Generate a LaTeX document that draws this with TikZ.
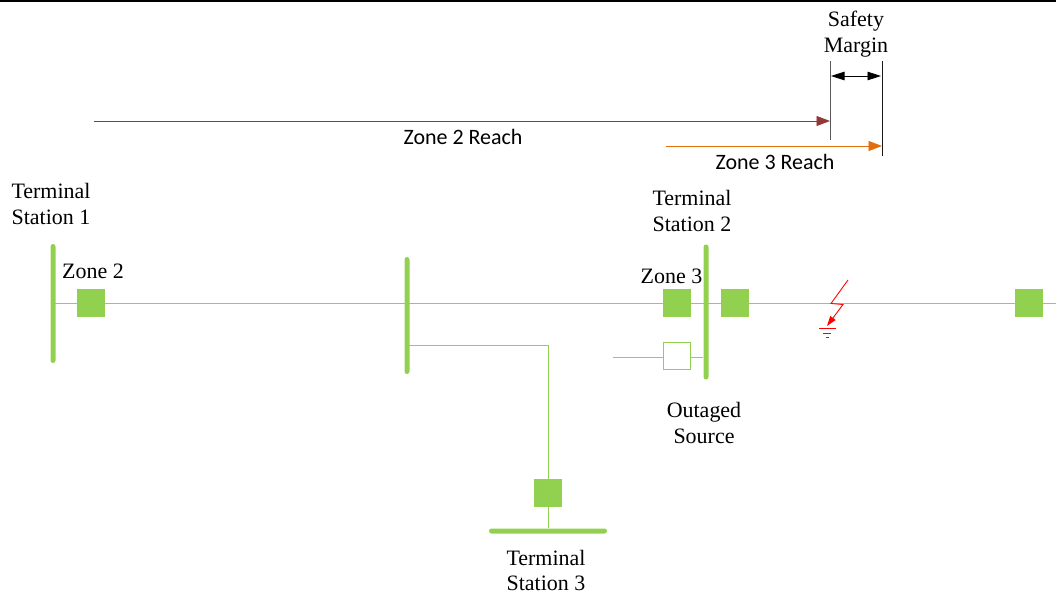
\documentclass[tikz,border=0pt]{standalone}
\usepackage{fontspec}
\setmainfont{Liberation Serif}
\newfontfamily\reachfont{Carlito}
\usetikzlibrary{positioning, arrows.meta, calc}
\definecolor{feedergreen}{RGB}{146,208,80}
\definecolor{reachred}{RGB}{149,55,53}
\definecolor{reachorange}{RGB}{228,108,10}
\definecolor{faultred}{RGB}{255,0,0}

\begin{document}
\begin{tikzpicture}[
    every node/.style={font=\fontsize{12.5}{14.7}\selectfont, align=center},
    busbar/.style={fill=feedergreen, rounded corners=0.05cm, inner sep=0pt, minimum width=0.1cm},
    busflat/.style={fill=feedergreen, rounded corners=0.05cm, inner sep=0pt, minimum height=0.1cm},
    breaker/.style={fill=feedergreen, draw=feedergreen, line width=0.3pt, minimum size=0.54cm, inner sep=0pt},
    openbreaker/.style={fill=white, draw=feedergreen, line width=0.5pt, minimum size=0.54cm, inner sep=0pt},
    feeder/.style={draw=feedergreen, line width=0.5pt},
    reachlabel/.style={font=\reachfont\fontsize{12.5}{14}\selectfont},
    marker/.style={line width=0.5pt},
    reach/.style={-{Triangle[length=0.27cm, width=0.2cm]}, line width=0.5pt},
    >=Stealth
  ]
  \useasboundingbox (0,0) rectangle (21.12,11.82);

  % top edge of the page
  \fill (0,11.78) rectangle (21.12,11.82);

  % ------ bus bars ------
  \node[busbar, minimum height=2.38cm] (busone) at (1.06,5.75) {};
  \node[busbar, minimum height=2.34cm] (bustee) at (8.14,5.51) {};
  \node[busbar, minimum height=2.70cm] (bustwo) at (14.12,5.58) {};
  \node[busflat, minimum width=2.36cm] (busthree) at (10.96,1.20) {};

  % ------ breakers ------
  \node[breaker] (brkone) at (1.82,5.76) {};
  \node[breaker] (brkzone) at (13.54,5.76) {};
  \node[breaker] (brktwo) at (14.70,5.76) {};
  \node[breaker] (brkfar) at (20.58,5.76) {};
  \node[breaker] (brkthree) at (10.96,1.96) {};
  \node[openbreaker] (brksource) at (13.54,4.70) {};

  % ------ feeders ------
  \coordinate (lineend) at (21.12,5.76);
  \coordinate (teepoint) at (8.14,4.92);
  \coordinate (sourceend) at (12.26,4.68);

  \draw[feeder] (brkone -| busone) -- (brkone);
  \draw[feeder] (brkone) -- (brkone -| bustee);
  \draw[feeder] (brkone -| bustee) -- (brkzone);
  \draw[feeder] (brkzone) -- (brkzone -| bustwo);
  \draw[feeder] (brkzone -| bustwo) -- (brktwo);
  \draw[feeder] (brktwo) -- (brkfar);
  \draw[feeder] (brkfar) -- (lineend);
  \draw[feeder] (teepoint) -| (brkthree);
  \draw[feeder] (brkthree) -- (busthree);
  \draw[feeder] (sourceend) -- (sourceend -| brksource.west);
  \draw[feeder] (sourceend -| brksource.east) -- (sourceend -| bustwo.west);

  % ------ fault with earth symbol ------
  \coordinate (faulttop) at (16.96,6.22);
  \coordinate (faultleft) at (16.62,5.75);
  \coordinate (faultright) at (16.86,5.73);
  \coordinate (faultfoot) at (16.54,5.30);
  \draw[faultred, line width=0.5pt, -{Triangle[length=0.2cm, width=0.13cm]}]
    (faulttop) -- (faultleft) -- (faultright) -- (faultfoot);
  \draw[faultred, line width=0.5pt] (16.38,5.26) -- (16.72,5.26);
  \draw[faultred, line width=0.5pt] (16.46,5.16) -- (16.62,5.16);
  \draw[faultred, line width=0.5pt] (16.52,5.08) -- (16.58,5.08);

  % ------ reach arrows and safety margin ------
  \coordinate (marktwotop) at (16.60,10.60);
  \coordinate (marktwobot) at (16.60,9.02);
  \coordinate (markthreetop) at (17.64,10.60);
  \coordinate (markthreebot) at (17.64,8.70);
  \coordinate (reachtwostart) at (1.88,9.40);
  \coordinate (reachthreestart) at (13.32,8.90);

  \draw[marker, black!65] (marktwotop) -- (marktwobot);
  \draw[marker, black!90] (markthreetop) -- (markthreebot);
  \draw[reach, reachred] (reachtwostart) -- (reachtwostart -| marktwotop);
  \draw[reach, reachorange] (reachthreestart) -- (reachthreestart -| markthreetop);
  \draw[{Triangle[length=0.27cm, width=0.17cm]}-{Triangle[length=0.27cm, width=0.17cm]}, line width=0.5pt]
    ($(marktwotop)+(0.02,-0.30)$) -- ($(markthreetop)+(-0.02,-0.30)$);

  % ------ labels ------
  \node (lblmargin) at (17.12,11.14) {Safety\\Margin};
  \node[reachlabel] (lblreachtwo) at (9.26,9.09) {Zone 2 Reach};
  \node[reachlabel] (lblreachthree) at (15.50,8.58) {Zone 3 Reach};
  \node (lblstationone) at (1.02,7.74) {Terminal\\Station 1};
  \node (lblstationtwo) at (13.84,7.60) {Terminal\\Station 2};
  \node (lblstationthree) at (10.92,0.41) {Terminal\\Station 3};
  \node (lblzonetwo) at (1.86,6.40) {Zone 2};
  \node (lblzonethree) at (13.43,6.29) {Zone 3};
  \node (lbloutaged) at (14.08,3.36) {Outaged\\Source};

\end{tikzpicture}
\end{document}
